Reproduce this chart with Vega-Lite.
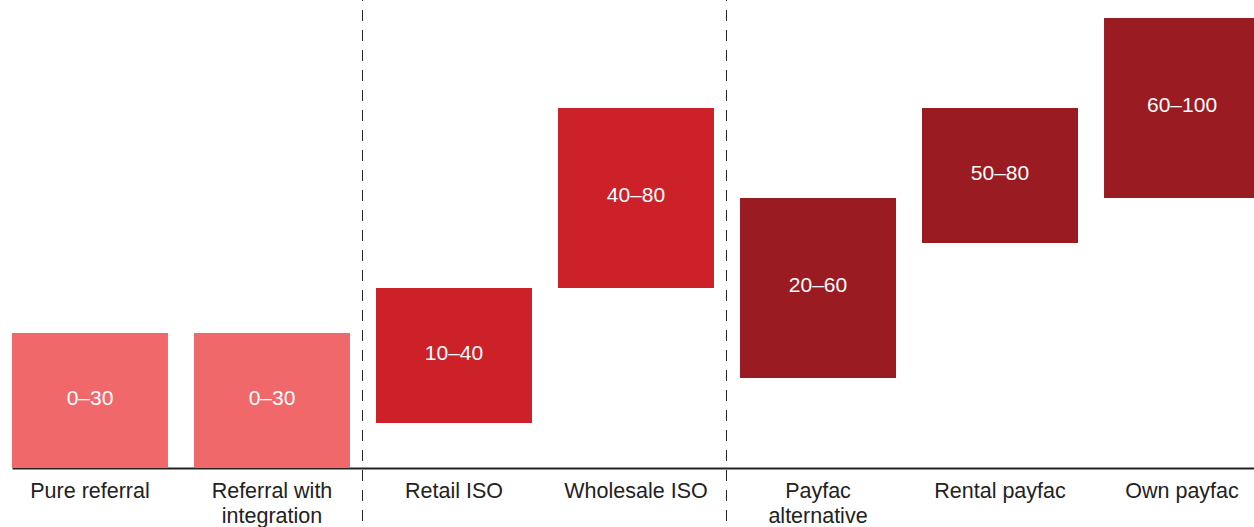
{
  "$schema": "https://vega.github.io/schema/vega-lite/v6.json",
  "width": 1254,
  "height": 468,
  "padding": {"left": 0, "top": 0, "right": 0, "bottom": 59},
  "autosize": {"type": "none"},
  "background": "#ffffff",
  "config": {
    "view": {"stroke": null},
    "font": "Liberation Sans"
  },
  "layer": [
    {
      "data": {
        "values": [
          {"after": "Referral with integration"},
          {"after": "Wholesale ISO"}
        ]
      },
      "mark": {
        "type": "rule",
        "color": "#222222",
        "strokeWidth": 1,
        "strokeDash": [11, 9],
        "strokeDashOffset": 10
      },
      "encoding": {
        "x": {"field": "after", "type": "nominal", "bandPosition": 1.0801},
        "y": {"datum": 104},
        "y2": {"datum": -13.2}
      }
    },
    {
      "data": {
        "values": [
          {"model": "Pure referral", "group": "Referral", "lo": 0, "hi": 30},
          {"model": "Referral with integration", "group": "Referral", "lo": 0, "hi": 30},
          {"model": "Retail ISO", "group": "ISO", "lo": 10, "hi": 40},
          {"model": "Wholesale ISO", "group": "ISO", "lo": 40, "hi": 80},
          {"model": "Payfac alternative", "group": "Payfac", "lo": 20, "hi": 60},
          {"model": "Rental payfac", "group": "Payfac", "lo": 50, "hi": 80},
          {"model": "Own payfac", "group": "Payfac", "lo": 60, "hi": 100}
        ]
      },
      "transform": [
        {"calculate": "datum.lo + '–' + datum.hi", "as": "range"},
        {"calculate": "(datum.lo + datum.hi) / 2", "as": "mid"}
      ],
      "layer": [
        {
          "mark": {"type": "bar"},
          "encoding": {
            "y": {"field": "lo", "type": "quantitative"},
            "y2": {"field": "hi"},
            "color": {
              "field": "group",
              "type": "nominal",
              "scale": {
                "domain": ["Referral", "ISO", "Payfac"],
                "range": ["#F0686A", "#CC2129", "#9A1B21"]
              },
              "legend": null
            }
          }
        },
        {
          "mark": {
            "type": "text",
            "color": "#ffffff",
            "fontSize": 21,
            "baseline": "middle",
            "dy": -2
          },
          "encoding": {
            "y": {"field": "mid", "type": "quantitative"},
            "text": {"field": "range"}
          }
        }
      ]
    }
  ],
  "encoding": {
    "x": {
      "field": "model",
      "type": "nominal",
      "sort": null,
      "scale": {
        "domain": ["Pure referral", "Referral with integration", "Retail ISO", "Wholesale ISO", "Payfac alternative", "Rental payfac", "Own payfac"],
        "range": [12, 1260],
        "paddingInner": 0.143,
        "paddingOuter": 0
      },
      "axis": {
        "title": null,
        "ticks": false,
        "domainColor": "#222222",
        "domainWidth": 2,
        "labelAngle": 0,
        "labelFontSize": 21.5,
        "labelColor": "#222222",
        "labelPadding": 12,
        "labelLineHeight": 25,
        "labelExpr": "datum.value == 'Referral with integration' ? ['Referral with', 'integration'] : datum.value == 'Payfac alternative' ? ['Payfac', 'alternative'] : datum.value"
      }
    },
    "y": {
      "type": "quantitative",
      "scale": {"domain": [0, 104]},
      "axis": null
    }
  }
}
